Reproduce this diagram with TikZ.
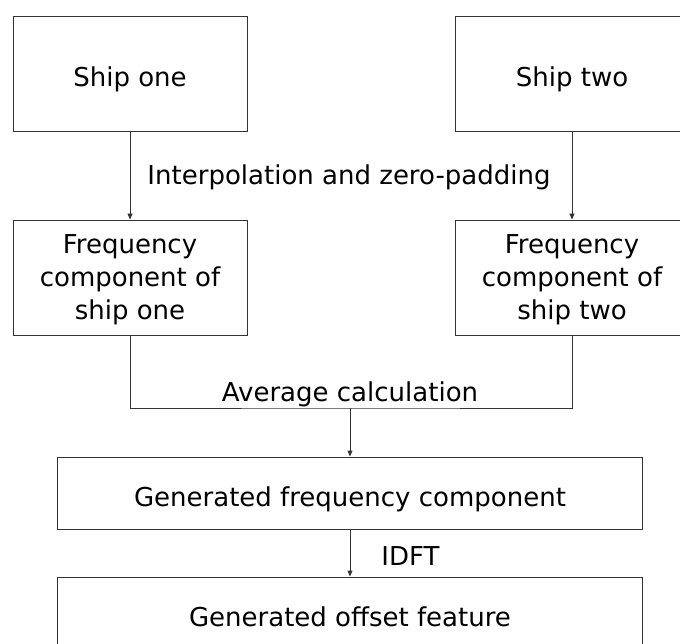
\documentclass[tikz,border=0pt]{standalone}
\usepackage{fontspec}
\setmainfont{DejaVu Sans}
\usetikzlibrary{arrows.meta}

\begin{document}
\begin{tikzpicture}[
  x=1pt, y=-1pt,
  line width=0.9pt,
  font=\fontsize{26}{33}\selectfont,
  >={Triangle[length=6pt,width=5pt]}
]
\tikzset{
    stagebox/.style = {rectangle, draw=black!80, align=center, inner sep=0pt},
    bigbox/.style = {stagebox, minimum width=234pt, minimum height=115pt},
    widebox/.style = {stagebox, minimum width=585pt, minimum height=72pt},
    oneline/.style = {text height=27pt, text depth=0pt},
    flowline/.style = {draw=black!80},
    flowarrow/.style = {flowline, ->},
}
\clip (0,0) rectangle (680,644);
% ships and their spectra
\node[bigbox,oneline] (shipOne) at (130,73.5) {Ship one};
\node[bigbox,oneline] (shipTwo) at (572,73.5) {Ship two};
\node[bigbox,text depth=0pt] (freqOne) at (130,277.5) {Frequency\\component of\\ship one};
\node[bigbox,text depth=0pt] (freqTwo) at (572,277.5) {Frequency\\component of\\ship two};
% generated results
\node[widebox,oneline] (genFreq) at (350,493) {Generated frequency component};
\node[widebox,oneline] (genOffset) at (350,613) {Generated offset feature};
\coordinate (merge) at (350,408);

\draw[flowarrow] (shipOne) -- (freqOne);
\draw[flowarrow] (shipTwo) -- (freqTwo);
\draw[flowline] (freqOne.south) |- (merge) -| (freqTwo.south);
\draw[flowarrow] (merge) -- (genFreq);
\draw[flowarrow] (genFreq) -- (genOffset);

% step labels
\node[anchor=base] (interpLabel) at (349,185) {Interpolation and zero-padding};
\node[anchor=base] (avgLabel) at (350,401) {Average calculation};
\node[anchor=base west,inner sep=0pt] (idftLabel) at (381,565) {IDFT};
\end{tikzpicture}
\end{document}
